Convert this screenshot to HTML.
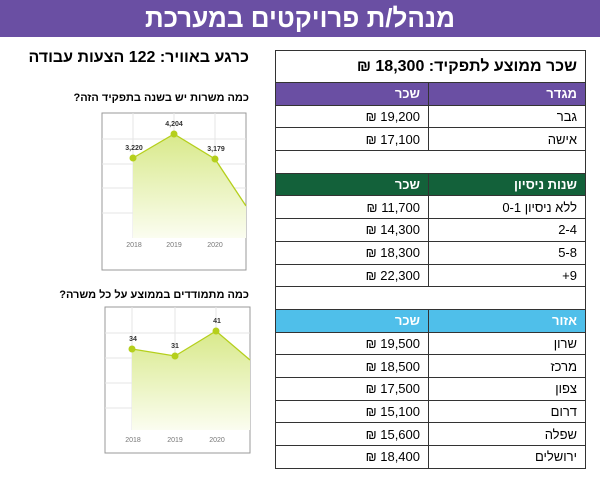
<!DOCTYPE html>
<html><head><meta charset="utf-8"><style>
body{margin:0;width:600px;height:480px;background:#fff;position:relative;overflow:hidden;font-family:"Liberation Sans","Noto Sans CJK JP",sans-serif;}
.hdr{position:absolute;left:0;top:0;width:600px;height:37px;background:#6a4fa3;color:#fff;font-size:26px;font-weight:bold;text-align:center;line-height:37px;direction:rtl;}
.abs{position:absolute;direction:rtl;white-space:nowrap;}
table{position:absolute;left:275px;top:50px;width:311px;border-collapse:collapse;direction:rtl;font-size:13px;}
td{border:1.5px solid #333;height:21.7px;padding:0 8px;}
td.c1{width:140px;}
.t{height:31px;font-size:16px;font-weight:bold;}
.p td{background:#6a4fa3;color:#fff;font-weight:bold;}
.g td{background:#13613a;color:#fff;font-weight:bold;}
.b td{background:#4fbfea;color:#fff;font-weight:bold;}
</style></head><body>
<div class="hdr">מנהל/ת פרויקטים במערכת</div>
<div class="abs" style="right:351px;top:49px;font-size:16px;font-weight:bold;">כרגע באוויר: 122 הצעות עבודה</div>
<div class="abs" style="right:351px;top:92px;font-size:11px;font-weight:bold;">כמה משרות יש בשנה בתפקיד הזה?</div>
<div class="abs" style="right:351px;top:289px;font-size:11px;font-weight:bold;">כמה מתמודדים בממוצע על כל משרה?</div>
<svg style="position:absolute;left:0;top:0" width="600" height="480" font-family="Liberation Sans" font-size="7">
<defs><linearGradient id="gr" x1="0" y1="0" x2="0" y2="1"><stop offset="0" stop-color="#d8e98a"/><stop offset="1" stop-color="#fbfdf0"/></linearGradient></defs>
<rect x="102" y="113" width="144" height="157" fill="#fff" stroke="#999"/>
<g stroke="#e6e6e6"><line x1="102" x2="246" y1="139" y2="139"/><line x1="102" x2="246" y1="164" y2="164"/><line x1="102" x2="246" y1="188" y2="188"/><line x1="102" x2="246" y1="213" y2="213"/><line x1="133" x2="133" y1="113" y2="238"/><line x1="174" x2="174" y1="113" y2="238"/><line x1="215" x2="215" y1="113" y2="238"/></g>
<path d="M133,158 L174,134 L215,159 L246,206 L246,238 L133,238Z" fill="url(#gr)"/>
<path d="M133,158 L174,134 L215,159 L246,206" fill="none" stroke="#b5cf1c" stroke-width="1.3"/>
<g fill="#b5cf1c"><circle cx="133" cy="158" r="3.5"/><circle cx="174" cy="134" r="3.5"/><circle cx="215" cy="159" r="3.5"/></g>
<g text-anchor="middle" fill="#333" font-weight="bold"><text x="134" y="150">3,220</text><text x="174" y="126">4,204</text><text x="216" y="151">3,179</text></g>
<g text-anchor="middle" fill="#777"><text x="134" y="247">2018</text><text x="174" y="247">2019</text><text x="215" y="247">2020</text></g>
<rect x="105" y="307" width="145" height="146" fill="#fff" stroke="#999"/>
<g stroke="#e6e6e6"><line x1="105" x2="250" y1="333" y2="333"/><line x1="105" x2="250" y1="358" y2="358"/><line x1="105" x2="250" y1="383" y2="383"/><line x1="105" x2="250" y1="408" y2="408"/><line x1="132" x2="132" y1="307" y2="430"/><line x1="175" x2="175" y1="307" y2="430"/><line x1="216" x2="216" y1="307" y2="430"/></g>
<path d="M132,349 L175,356 L216,331 L250,360 L250,430 L132,430Z" fill="url(#gr)"/>
<path d="M132,349 L175,356 L216,331 L250,360" fill="none" stroke="#b5cf1c" stroke-width="1.3"/>
<g fill="#b5cf1c"><circle cx="132" cy="349" r="3.5"/><circle cx="175" cy="356" r="3.5"/><circle cx="216" cy="331" r="3.5"/></g>
<g text-anchor="middle" fill="#333" font-weight="bold"><text x="133" y="341">34</text><text x="175" y="348">31</text><text x="217" y="323">41</text></g>
<g text-anchor="middle" fill="#777"><text x="133" y="442">2018</text><text x="175" y="442">2019</text><text x="217" y="442">2020</text></g>
</svg>
<table>
<tr><td colspan="2" class="t">שכר ממוצע לתפקיד: 18,300 ₪</td></tr>
<tr class="p"><td class="c1">מגדר</td><td>שכר</td></tr>
<tr><td>גבר</td><td>19,200 ₪</td></tr>
<tr><td>אישה</td><td>17,100 ₪</td></tr>
<tr><td colspan="2"></td></tr>
<tr class="g"><td>שנות ניסיון</td><td>שכר</td></tr>
<tr><td>ללא ניסיון 0-1</td><td>11,700 ₪</td></tr>
<tr><td>2-4</td><td>14,300 ₪</td></tr>
<tr><td>5-8</td><td>18,300 ₪</td></tr>
<tr><td>9+</td><td>22,300 ₪</td></tr>
<tr><td colspan="2"></td></tr>
<tr class="b"><td>אזור</td><td>שכר</td></tr>
<tr><td>שרון</td><td>19,500 ₪</td></tr>
<tr><td>מרכז</td><td>18,500 ₪</td></tr>
<tr><td>צפון</td><td>17,500 ₪</td></tr>
<tr><td>דרום</td><td>15,100 ₪</td></tr>
<tr><td>שפלה</td><td>15,600 ₪</td></tr>
<tr><td>ירושלים</td><td>18,400 ₪</td></tr>
</table>
</body></html>
